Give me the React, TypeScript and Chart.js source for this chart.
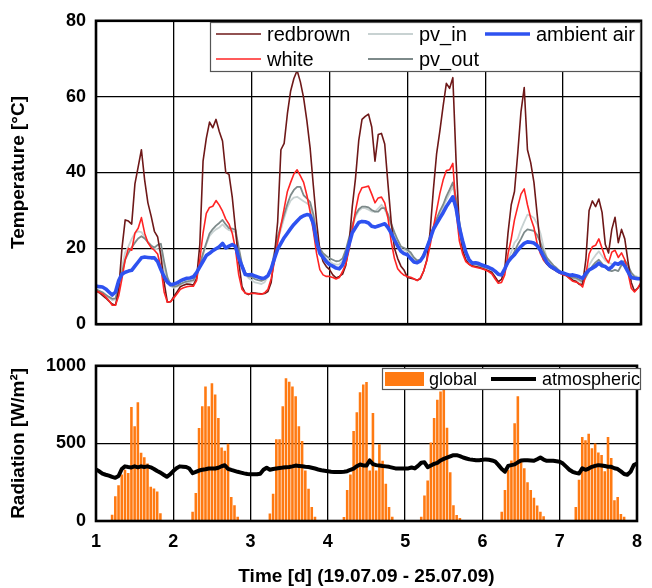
import React, { useEffect, useRef } from 'react';
import { Chart, registerables } from 'chart.js';

Chart.register(...registerables);

// ---------- data (hourly values, first value = day 1, 00:00) ----------
const START_DAY = 1;
const HOURS_PER_DAY = 24;
const dayTicks = [1, 2, 3, 4, 5, 6, 7, 8];
const temperatureTicks = [0, 20, 40, 60, 80];
const radiationTicks = [0, 500, 1000];

const redbrown = [
  8.8, 8.3, 7.6, 6.9, 6.1, 5.3, 5.0, 9.0, 20.0, 27.5, 27.2, 26.4, 37.0, 41.5, 46.0, 38.0, 32.0, 28.5, 24.5, 23.0, 18.0, 11.0, 5.8, 5.9,
  7.3, 8.6, 9.9, 10.3, 10.6, 10.5, 10.3, 12.0, 21.0, 43.0, 49.0, 53.3, 51.8, 54.0, 50.8, 48.3, 40.0, 39.5, 33.5, 25.0, 16.5, 10.0, 8.2, 7.8,
  8.3, 8.2, 8.1, 8.0, 8.1, 8.6, 11.0, 18.0, 27.0, 46.0, 47.7, 55.5, 61.5, 64.8, 66.9, 63.9, 59.7, 53.7, 46.5, 36.5, 27.0, 19.5, 16.5, 15.2,
  14.4, 13.0, 12.2, 12.6, 13.2, 15.5, 21.0, 31.0, 38.5, 48.5, 54.0, 54.8, 55.4, 52.0, 43.0, 50.0, 50.3, 47.5, 37.0, 27.0, 20.0, 17.3, 15.3, 14.2,
  12.3, 12.1, 11.9, 11.6, 12.0, 14.0, 17.0, 24.5, 35.5, 45.0, 51.0, 57.5, 63.5, 62.2, 65.0, 43.0, 25.5, 19.5, 17.0, 15.8, 15.4, 15.2, 15.0, 14.7,
  14.4, 14.1, 13.7, 12.5, 11.2, 11.8, 14.5, 24.0, 31.5, 35.0, 45.0, 56.0, 62.4, 46.0, 42.6, 37.4, 28.9, 20.3, 16.9, 15.8, 15.0, 14.5, 14.0, 13.5,
  13.2, 12.9, 12.2, 11.6, 11.3, 10.5, 10.5, 17.0, 30.0, 32.5, 31.0, 33.0, 29.5, 21.0, 18.8, 25.0, 28.2, 21.5, 25.0, 22.5, 16.5, 11.0, 8.7, 9.5,
  10.7,
];

const white = [
  8.8, 8.4, 8.0, 7.2, 6.2, 5.0, 5.0, 7.5, 12.0, 17.0, 20.0, 19.5, 24.0, 25.3, 28.1, 24.0, 21.5, 20.2, 19.5, 18.5, 15.0, 8.5, 5.8, 6.0,
  6.9, 8.0, 9.2, 9.6, 9.9, 10.0, 10.0, 11.5, 17.0, 24.0, 29.2, 30.8, 31.1, 32.6, 31.4, 29.8, 27.7, 26.4, 24.0, 19.8, 13.0, 9.2, 8.2, 8.0,
  8.1, 8.1, 8.0, 7.9, 8.3, 9.2, 12.0, 16.5, 21.5, 26.0, 30.5, 35.0, 37.4, 39.6, 40.7, 39.1, 37.4, 34.0, 29.7, 24.6, 18.6, 14.4, 13.0, 12.6,
  12.6, 12.3, 11.9, 12.3, 13.9, 15.9, 19.6, 24.8, 30.0, 34.2, 36.0, 36.2, 36.4, 34.3, 32.0, 33.3, 33.5, 32.0, 28.0, 21.8, 17.3, 14.6, 13.6, 12.9,
  12.6, 12.4, 12.0, 11.5, 12.2, 14.0, 16.8, 20.8, 25.5, 30.0, 34.5, 38.0, 40.5, 40.7, 42.4, 30.0, 22.0, 18.6, 16.5, 15.8, 15.2, 15.0, 14.8, 14.6,
  14.3, 13.9, 13.3, 12.0, 10.8, 11.0, 13.0, 18.5, 22.5, 27.5, 31.0, 34.3, 35.7, 31.5, 28.0, 25.5, 21.2, 18.6, 16.9, 16.0, 15.2, 14.6, 14.0, 13.4,
  13.0, 12.8, 12.0, 11.3, 11.1, 10.7, 9.8, 13.0, 18.5, 20.4, 20.8, 22.5, 20.0, 17.5, 16.2, 19.0, 19.5, 17.6, 18.8, 17.0, 13.5, 9.5, 8.5, 9.5,
  11.0,
];

const pvIn = [
  9.0, 8.6, 8.2, 7.5, 6.9, 6.3, 6.6, 10.0, 15.0, 19.0, 20.5, 22.5, 24.0, 24.5, 24.3, 23.0, 21.8, 20.8, 20.0, 19.8, 19.5, 14.5, 11.5, 10.0,
  9.6, 9.9, 10.4, 10.8, 11.0, 11.1, 11.3, 12.8, 15.3, 18.3, 21.0, 23.3, 24.3, 25.0, 25.5, 26.3, 25.4, 24.8, 24.6, 24.2, 19.5, 15.2, 13.1, 12.2,
  11.6, 11.0, 10.8, 10.6, 11.1, 12.5, 14.2, 18.0, 22.0, 25.0, 28.0, 30.8, 32.6, 33.4, 33.6, 33.0, 32.4, 31.9, 31.2, 27.0, 22.5, 19.5, 18.3, 17.2,
  16.6, 16.0, 15.7, 15.8, 16.6, 19.1, 22.2, 25.3, 28.4, 29.9, 30.6, 30.6, 30.2, 29.7, 29.7, 30.5, 31.5, 30.3, 28.3, 25.8, 23.2, 21.0, 19.9, 19.5,
  19.2, 18.4, 17.1, 16.4, 16.8, 18.2, 20.2, 22.6, 25.2, 27.3, 29.2, 30.8, 32.8, 34.5, 36.4, 32.0, 26.0, 21.3, 18.4, 16.7, 15.9, 15.7, 15.4, 15.0,
  14.8, 14.6, 14.3, 13.8, 13.0, 13.3, 14.6, 17.0, 19.0, 21.5, 22.5, 25.0, 27.0, 28.9, 28.6, 28.0, 26.5, 24.0, 20.3, 17.5, 16.2, 15.3, 14.6, 13.9,
  13.3, 12.8, 12.0, 12.0, 11.9, 11.3, 10.9, 12.8, 15.5, 17.0, 18.2, 19.2, 18.0, 16.8, 16.2, 15.9, 15.8, 15.8, 16.8, 16.5, 15.0, 13.5, 12.8, 12.5,
  12.3,
];

const pvOut = [
  9.2, 8.8, 8.4, 7.8, 7.2, 6.7, 6.8, 9.5, 13.7, 17.0, 18.8, 20.2, 21.5, 22.6, 23.2, 22.6, 21.6, 20.7, 20.2, 20.9, 21.2, 16.5, 12.4, 10.4,
  9.9, 10.1, 10.6, 11.0, 11.3, 11.4, 11.6, 13.2, 15.7, 18.7, 21.4, 23.9, 25.1, 26.0, 26.7, 27.5, 26.3, 25.3, 25.2, 24.9, 20.2, 15.9, 13.7, 12.6,
  12.4, 11.9, 11.6, 11.4, 11.8, 12.9, 14.6, 18.9, 23.0, 26.0, 28.9, 31.7, 34.0, 35.4, 36.2, 36.2, 34.0, 33.2, 32.2, 29.0, 23.4, 20.0, 18.7, 18.0,
  17.4, 17.0, 16.6, 16.7, 17.3, 19.6, 22.8, 26.1, 28.9, 30.3, 31.0, 31.0, 30.8, 30.1, 29.7, 29.7, 30.6, 30.6, 29.0, 26.5, 24.2, 22.2, 20.5, 20.1,
  19.6, 18.9, 17.6, 16.8, 17.1, 18.5, 20.5, 23.0, 25.7, 27.8, 29.8, 31.5, 33.7, 35.5, 37.4, 33.2, 27.2, 22.0, 18.8, 17.0, 16.1, 15.9, 15.6, 15.2,
  15.0, 14.8, 14.6, 14.0, 13.2, 13.3, 14.2, 16.2, 17.5, 19.2, 21.0, 22.5, 24.2, 25.0, 24.8, 24.6, 23.5, 21.5, 19.1, 17.5, 16.5, 15.5, 14.8, 14.0,
  13.4, 12.9, 12.3, 12.3, 12.2, 11.7, 11.2, 12.4, 14.0, 15.3, 16.3, 17.0, 16.0, 15.0, 14.2, 14.0, 14.3, 14.0, 15.6, 16.8, 15.6, 13.6, 12.5, 12.2,
  12.1,
];

const ambientAir = [
  10.1, 9.9, 9.8, 9.3, 8.5, 7.7, 8.5, 11.5, 13.2, 13.7, 14.0, 14.2, 15.3, 16.4, 17.5, 17.7, 17.6, 17.5, 17.5, 16.5, 14.4, 12.5, 11.1, 10.4,
  10.6, 10.9, 11.4, 11.8, 12.1, 12.2, 12.5, 13.6, 15.1, 16.6, 18.1, 18.7, 19.4, 19.9, 20.4, 21.3, 20.1, 20.6, 21.0, 20.5, 17.5, 15.3, 13.1, 13.0,
  13.1, 12.7, 12.4, 12.1, 12.2, 12.8, 14.6, 17.3, 19.8, 21.3, 22.8, 24.0, 25.2, 26.3, 27.2, 28.1, 28.6, 28.9, 28.7, 26.5, 21.8, 18.7, 17.6, 16.5,
  15.7, 15.3, 14.8, 14.6, 15.6, 17.8, 21.0, 24.1, 25.5, 26.8, 27.1, 27.0, 26.7, 25.8, 25.6, 25.9, 26.2, 26.5, 25.5, 24.0, 22.2, 20.6, 19.2, 18.6,
  18.3, 17.3, 16.4, 16.2, 16.7, 18.0, 20.2, 22.5, 25.0, 26.5, 28.0, 29.4, 31.0, 32.3, 33.6, 30.6, 25.5, 22.0, 19.0, 17.0, 16.1, 16.2, 16.0, 15.6,
  15.3, 15.0, 14.6, 14.0, 13.2, 13.0, 14.6, 16.4, 17.5, 18.3, 19.5, 20.5, 21.3, 21.7, 21.6, 21.4, 20.7, 19.5, 17.8, 16.3, 15.3, 14.8, 14.2, 13.7,
  13.5, 13.2, 12.9, 13.0, 12.8, 12.5, 12.1, 13.4, 14.3, 14.8, 15.3, 16.1, 15.4, 15.2, 14.5, 15.1, 16.1, 15.8, 16.4, 15.4, 13.8, 12.3, 12.1, 12.0,
  12.0,
];

const globalRadiation = [
  0, 0, 0, 0, 0, 40, 160, 230, 300, 330, 310, 735, 610, 765, 440, 410, 370, 220, 210, 190, 50, 0, 0, 0,
  0, 0, 0, 0, 0, 0, 60, 180, 600, 739, 866, 739, 887, 815, 664, 473, 452, 497, 155, 102, 27, 0, 0, 0,
  0, 0, 0, 0, 0, 0, 49, 176, 527, 527, 739, 919, 898, 866, 803, 611, 516, 325, 208, 91, 27, 0, 0, 0,
  0, 0, 0, 0, 0, 26, 200, 300, 580, 700, 830, 880, 895, 325, 696, 325, 495, 389, 240, 91, 27, 0, 0, 0,
  0, 0, 0, 0, 0, 27, 165, 261, 505, 664, 781, 834, 900, 601, 314, 102, 38, 19, 5, 0, 0, 0, 0, 0,
  0, 0, 0, 0, 0, 0, 60, 200, 330, 390, 630, 803, 380, 340, 250, 200, 150, 100, 60, 30, 0, 0, 0, 0,
  0, 0, 0, 0, 0, 91, 265, 541, 520, 562, 469, 499, 442, 425, 320, 541, 406, 134, 155, 45, 27, 0, 0, 0,
];

const atmospheric = [
  332, 320, 305, 298, 292, 284, 278, 290, 335, 352, 348, 345, 352, 346, 352, 348, 352, 346, 335, 322, 312, 298, 285, 300,
  322, 340, 352, 350, 348, 338, 308, 316, 325, 330, 333, 338, 338, 338, 343, 353, 359, 336, 329, 323, 317, 312, 307, 303,
  301, 301, 301, 305, 330, 343, 330, 335, 338, 341, 344, 346, 348, 352, 357, 355, 353, 350, 348, 343, 338, 332, 327, 324,
  321, 318, 316, 316, 316, 318, 321, 330, 338, 353, 364, 358, 357, 390, 367, 360, 357, 354, 352, 349, 344, 339, 339, 339,
  339, 339, 345, 339, 355, 375, 378, 347, 358, 368, 375, 390, 400, 408, 416, 424, 424, 418, 409, 403, 397, 394, 392, 392,
  394, 397, 395, 390, 382, 360, 335, 318, 355, 360, 365, 378, 390, 392, 392, 390, 388, 398, 409, 396, 388, 388, 388, 385,
  382, 370, 350, 330, 317, 310, 306, 339, 330, 338, 349, 355, 360, 357, 354, 350, 349, 340, 335, 320, 303, 298, 317, 360,
  371,
];

// ---------- helpers ----------
const hourToDay = (i: number) => START_DAY + i / HOURS_PER_DAY;
const toPoints = (values: number[]) => values.map((y, i) => ({ x: hourToDay(i), y }));

const FAMILY = '"Liberation Sans", Arial, Helvetica, sans-serif';
const tickFont = { family: FAMILY, size: 18, weight: 'bold' as const };
const titleFont = { family: FAMILY, size: 19, weight: 'bold' as const };
const GRID = { color: '#000', lineWidth: 1.3, drawTicks: false };

const framePlugin = {
  id: 'frame',
  afterDatasetsDraw(chart: any) {
    const { ctx, chartArea: a } = chart;
    ctx.save();
    ctx.strokeStyle = '#000';
    ctx.lineWidth = 2.6;
    ctx.strokeRect(a.left, a.top, a.right - a.left, a.bottom - a.top);
    ctx.restore();
  },
};

type LegendItem = { label: string; kind: 'line' | 'box'; color: string; width: number; x: number; y: number };

function makeLegendPlugin(box: [number, number, number, number], items: LegendItem[], fontSize: number) {
  return {
    id: 'boxLegend',
    afterDraw(chart: any) {
      const ctx = chart.ctx as CanvasRenderingContext2D;
      const [x0, y0, x1, y1] = box;
      ctx.save();
      ctx.fillStyle = '#fff';
      ctx.fillRect(x0, y0, x1 - x0, y1 - y0);
      ctx.strokeStyle = '#555';
      ctx.lineWidth = 1.2;
      ctx.strokeRect(x0 + 0.5, y0 + 0.5, x1 - x0 - 1, y1 - y0 - 1);
      ctx.font = `${fontSize}px ${FAMILY}`;
      ctx.textBaseline = 'middle';
      ctx.textAlign = 'left';
      for (const it of items) {
        if (it.kind === 'line') {
          ctx.strokeStyle = it.color;
          ctx.lineWidth = it.width;
          ctx.lineCap = 'butt';
          ctx.beginPath();
          ctx.moveTo(it.x, it.y);
          ctx.lineTo(it.x + 45, it.y);
          ctx.stroke();
          ctx.fillStyle = '#000';
          ctx.fillText(it.label, it.x + 51, it.y + 1);
        } else {
          ctx.fillStyle = it.color;
          ctx.fillRect(it.x, it.y - 7, 39, 14);
          ctx.fillStyle = '#000';
          ctx.fillText(it.label, it.x + 44, it.y + 1);
        }
      }
      ctx.restore();
    },
  };
}

const COLORS = {
  redbrown: '#6E1818',
  white: '#FF2424',
  pvIn: '#C8D2D2',
  pvOut: '#7D8A8A',
  ambient: '#2E52F0',
  global: '#FF7A12',
  atmospheric: '#000000',
};

function topConfig(): any {
  const ds = (label: string, data: number[], color: string, width: number, order: number) => ({
    label,
    data: toPoints(data),
    borderColor: color,
    backgroundColor: color,
    borderWidth: width,
    pointRadius: 0,
    tension: 0,
    fill: false,
    order,
    borderJoinStyle: 'round',
  });
  return {
    type: 'line',
    data: {
      datasets: [
        ds('redbrown', redbrown, COLORS.redbrown, 1.6, 2),
        ds('white', white, COLORS.white, 1.6, 1),
        ds('pv_in', pvIn, COLORS.pvIn, 1.8, 4),
        ds('pv_out', pvOut, COLORS.pvOut, 1.8, 3),
        ds('ambient air', ambientAir, COLORS.ambient, 3.6, 0),
      ],
    },
    options: {
      animation: false,
      responsive: false,
      maintainAspectRatio: false,
      layout: { padding: { top: 18, right: 11, left: 0, bottom: 0 } },
      plugins: { legend: { display: false }, tooltip: { enabled: false } },
      scales: {
        x: {
          type: 'linear',
          min: dayTicks[0],
          max: dayTicks[dayTicks.length - 1],
          ticks: { display: false, stepSize: 1 },
          grid: GRID,
          border: { display: false },
          afterFit: (s: any) => { s.height = 15; },
        },
        y: {
          type: 'linear',
          min: temperatureTicks[0],
          max: temperatureTicks[temperatureTicks.length - 1],
          ticks: { stepSize: 20, padding: 10, color: '#000', font: tickFont, callback: (v: number) => String(v) },
          grid: GRID,
          border: { display: false },
          title: { display: true, text: 'Temperature [°C]', color: '#000', font: titleFont, padding: { top: 7, bottom: 0 } },
          afterFit: (s: any) => { s.width = 96; },
        },
      },
    },
    plugins: [
      framePlugin,
      makeLegendPlugin([210, 22, 641, 72], [
        { label: 'redbrown', kind: 'line', color: COLORS.redbrown, width: 1.6, x: 216, y: 34 },
        { label: 'white', kind: 'line', color: COLORS.white, width: 1.6, x: 216, y: 59 },
        { label: 'pv_in', kind: 'line', color: COLORS.pvIn, width: 1.8, x: 368, y: 34 },
        { label: 'pv_out', kind: 'line', color: COLORS.pvOut, width: 1.8, x: 368, y: 59 },
        { label: 'ambient air', kind: 'line', color: COLORS.ambient, width: 3.6, x: 485, y: 34 },
      ], 20),
    ],
  };
}

function bottomConfig(): any {
  const bars = globalRadiation
    .map((y, i) => ({ x: hourToDay(i), y }))
    .filter((p) => p.y > 0);
  return {
    type: 'bar',
    data: {
      datasets: [
        {
          type: 'line',
          label: 'atmospheric',
          data: toPoints(atmospheric),
          borderColor: COLORS.atmospheric,
          borderWidth: 4,
          pointRadius: 0,
          tension: 0,
          fill: false,
          borderJoinStyle: 'round',
          borderCapStyle: 'round',
          order: 0,
        },
        {
          type: 'bar',
          label: 'global',
          data: bars,
          backgroundColor: COLORS.global,
          borderWidth: 0,
          barPercentage: 1,
          categoryPercentage: 0.8,
          order: 1,
        },
      ],
    },
    options: {
      animation: false,
      responsive: false,
      maintainAspectRatio: false,
      layout: { padding: { top: 20, right: 11, left: 0, bottom: 0 } },
      plugins: { legend: { display: false }, tooltip: { enabled: false } },
      scales: {
        x: {
          type: 'linear',
          min: dayTicks[0],
          max: dayTicks[dayTicks.length - 1],
          offset: false,
          ticks: { stepSize: 1, padding: 10, color: '#000', font: tickFont, maxRotation: 0, callback: (v: number) => String(v) },
          grid: { ...GRID, offset: false },
          border: { display: false },
          title: { display: true, text: 'Time [d] (19.07.09 - 25.07.09)', color: '#000', font: titleFont, padding: { top: 0, bottom: 0 } },
          afterFit: (s: any) => { s.height = 67; },
        },
        y: {
          type: 'linear',
          min: radiationTicks[0],
          max: radiationTicks[radiationTicks.length - 1],
          ticks: { stepSize: 500, padding: 10, color: '#000', font: tickFont, callback: (v: number) => String(v) },
          grid: GRID,
          border: { display: false },
          title: { display: true, text: 'Radiation [W/m²]', color: '#000', font: titleFont, padding: { top: 7, bottom: 0 } },
          afterFit: (s: any) => { s.width = 96; },
        },
      },
    },
    plugins: [
      framePlugin,
      makeLegendPlugin([382, 23, 641, 45], [
        { label: 'global', kind: 'box', color: COLORS.global, width: 0, x: 385, y: 34 },
        { label: 'atmospheric', kind: 'line', color: COLORS.atmospheric, width: 4, x: 491, y: 34 },
      ], 18),
    ],
  };
}

export default function App() {
  const topRef = useRef<HTMLCanvasElement>(null);
  const bottomRef = useRef<HTMLCanvasElement>(null);

  useEffect(() => {
    const top = new Chart(topRef.current as HTMLCanvasElement, topConfig());
    const bottom = new Chart(bottomRef.current as HTMLCanvasElement, bottomConfig());
    return () => {
      top.destroy();
      bottom.destroy();
    };
  }, []);

  return (
    <div style={{ position: 'absolute', left: 0, top: 0, width: 652, height: 588, background: '#fff' }}>
      <canvas ref={topRef} width={652} height={345} style={{ position: 'absolute', left: 0, top: 0, width: 652, height: 345 }} />
      <canvas ref={bottomRef} width={652} height={243} style={{ position: 'absolute', left: 0, top: 345, width: 652, height: 243 }} />
    </div>
  );
}
